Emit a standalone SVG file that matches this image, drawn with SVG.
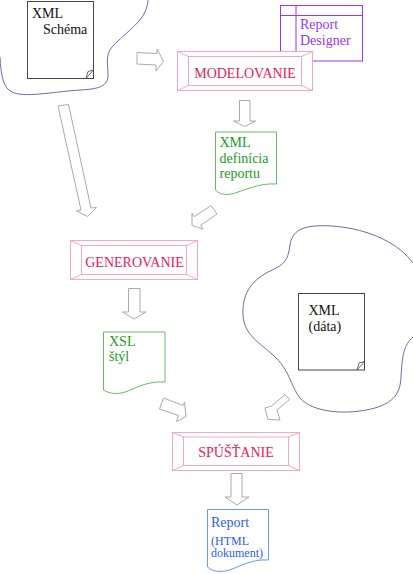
<svg xmlns="http://www.w3.org/2000/svg" width="413" height="574" viewBox="0 0 413 574">
<style>
text { font-family: "Liberation Serif", "Times New Roman", serif; font-size: 14px; }
.cloud { fill: none; stroke: #6b6bad; stroke-width: 1; }
.doc { fill: #fff; stroke: #444; stroke-width: 1; }
.fold { fill: #fff; stroke: #444; stroke-width: 0.8; }
.arrow { fill: #fff; stroke: #aaa; stroke-width: 1; stroke-linejoin: miter; }
.proc rect { fill: #fff; stroke: #f7a8c0; stroke-width: 1; }
.proc line { stroke: #f7a8c0; stroke-width: 1; }
.proc text { fill: #e8205a; text-anchor: middle; }
.green path { fill: #fff; stroke: #66bb66; }
.green text { fill: #1e9a1e; }
.purple rect, .purple line { fill: #fff; stroke: #9933ff; }
.purple text { fill: #9933ff; }
.blue path { fill: #fff; stroke: #6699ff; }
.blue text { fill: #2a5ef0; }
.black text { fill: #111; }
</style>

<g id="cloud-schema">
  <path class="cloud" d="M 0,57 C 1,75 3,88 12,92 C 25,98 50,92 80,90 C 100,89 108,86 108,75 C 108,65 105,55 112,47 C 122,36 138,25 144,14 C 147,8 148,3 148,0"/>
</g>
<g id="cloud-data">
  <path class="cloud" d="M 413,263 C 400,245 372,229 332,226 C 300,224 292,232 290,245 C 288,262 283,265 268,272 C 250,282 242,295 243,315 C 244,335 260,343 273,355 C 290,370 290,385 300,398 C 312,412 345,416 375,408 C 395,402 400,392 401,378 C 402,355 404,345 413,337"/>
</g>

<g id="xml-schema" class="black">
  <rect class="doc" x="27.5" y="1.5" width="66" height="77"/>
  <path class="fold" d="M 86,78.5 L 88,71.5 L 93.5,70 Z"/>
  <text x="32" y="18">XML</text>
  <text x="43" y="34">Schéma</text>
</g>

<g id="report-designer" class="purple">
  <rect x="280.5" y="5.5" width="82" height="55.5"/>
  <line x1="296" y1="5.5" x2="296" y2="61"/>
  <line x1="280.5" y1="15.5" x2="362.5" y2="15.5"/>
  <text x="300" y="29">Report</text>
  <text x="300" y="44.5">Designer</text>
</g>

<g id="modelovanie" class="proc">
  <rect x="177.5" y="51.5" width="135" height="39"/>
  <rect x="188.5" y="56.5" width="113" height="29"/>
  <line x1="177.5" y1="51.5" x2="188.5" y2="56.5"/>
  <line x1="312.5" y1="51.5" x2="301.5" y2="56.5"/>
  <line x1="177.5" y1="90.5" x2="188.5" y2="85.5"/>
  <line x1="312.5" y1="90.5" x2="301.5" y2="85.5"/>
  <text x="245" y="77.5">MODELOVANIE</text>
</g>

<g id="xml-definicia" class="green">
  <path d="M 215.5,132 H 276.5 V 184 C 262,183 250,188 238,192 C 228,196 220,195 215.5,190 Z"/>
  <text x="219.5" y="146.5">XML</text>
  <text x="219.5" y="162.5">definícia</text>
  <text x="219.5" y="178">reportu</text>
</g>

<g id="generovanie" class="proc">
  <rect x="70.5" y="240.5" width="127" height="39"/>
  <rect x="81.5" y="245.5" width="105" height="29"/>
  <line x1="70.5" y1="240.5" x2="81.5" y2="245.5"/>
  <line x1="197.5" y1="240.5" x2="186.5" y2="245.5"/>
  <line x1="70.5" y1="279.5" x2="81.5" y2="274.5"/>
  <line x1="197.5" y1="279.5" x2="186.5" y2="274.5"/>
  <text x="134.5" y="266.5">GENEROVANIE</text>
</g>

<g id="xsl-styl" class="green">
  <path d="M 103.5,332 H 165 V 382 C 150,381 140,386 128,391 C 118,395 110,394 103.5,390 Z"/>
  <text x="109" y="345.5">XSL</text>
  <text x="109" y="361">štýl</text>
</g>

<g id="xml-data" class="black">
  <rect class="doc" x="298.5" y="293.5" width="66" height="76.5"/>
  <path class="fold" d="M 357,370 L 359,363 L 364.5,361.5 Z"/>
  <text x="308.5" y="315">XML</text>
  <text x="308.5" y="331">(dáta)</text>
</g>

<g id="spustanie" class="proc">
  <rect x="172.5" y="432.5" width="127" height="38"/>
  <rect x="183.5" y="437" width="105" height="28.5"/>
  <line x1="172.5" y1="432.5" x2="183.5" y2="437"/>
  <line x1="299.5" y1="432.5" x2="288.5" y2="437"/>
  <line x1="172.5" y1="470.5" x2="183.5" y2="465.5"/>
  <line x1="299.5" y1="470.5" x2="288.5" y2="465.5"/>
  <text x="236" y="456.5">SPÚŠŤANIE</text>
</g>

<g id="report" class="blue">
  <path d="M 207.5,509.5 H 268.5 V 560 C 253,559 243,565 232,569 C 222,573 213,572 207.5,567 Z"/>
  <text x="211" y="526.5">Report</text>
  <text x="211" y="544.5" style="font-size:12px">(HTML</text>
  <text x="211" y="557" style="font-size:12px">dokument)</text>
</g>

<g id="connectors">
  <polygon class="arrow" points="137,52.5 157,53.5 157,49 163.5,61.5 156,71 156,65 137,64"/>
  <polygon class="arrow" points="239.5,100.5 250,100.5 250,121 255.5,121 244.5,126.5 233.5,121 239.5,121"/>
  <polygon class="arrow" points="58,106 68.5,104.5 91,208 96.5,207.5 87.5,216.5 76.5,211 81,210"/>
  <polygon class="arrow" points="211,205.5 217,214 200.7,225.3 203,229 192,225.5 192,213 194.3,216.7"/>
  <polygon class="arrow" points="128.5,288.5 140,288.5 140,312 146,312 134,319 122.5,312 128.5,312"/>
  <polygon class="arrow" points="163.5,398 183,405.5 184.5,402 186,416.5 176.5,421.5 178.5,415.5 159.5,409"/>
  <polygon class="arrow" points="285,394.5 289.5,399.5 277,410 280,420 268,419.5 265,408 271.5,406"/>
  <polygon class="arrow" points="231,473.5 242,473.5 242,497 249,497 237,505 225,497 231,497"/>
</g>
</svg>
